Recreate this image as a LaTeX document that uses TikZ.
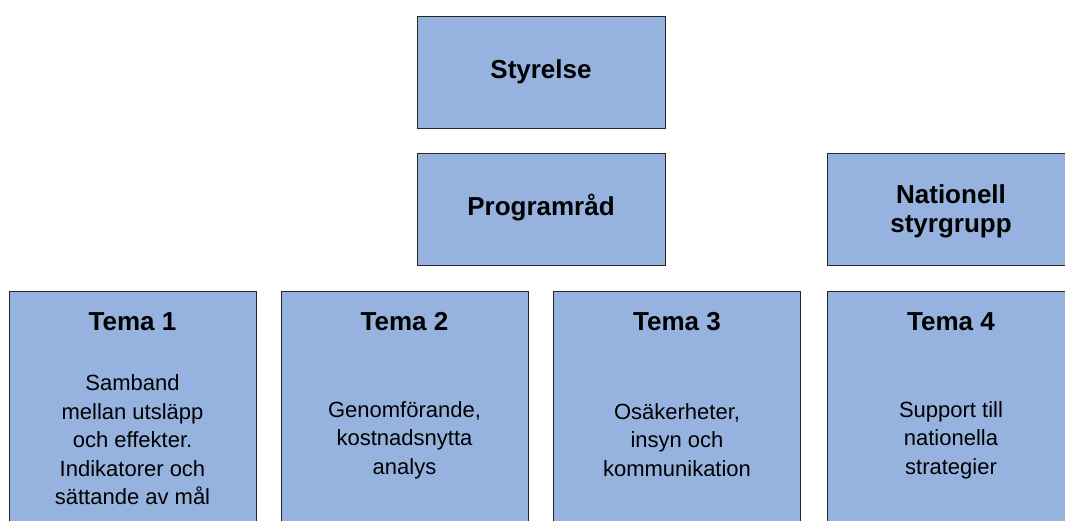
\documentclass[tikz,border=0pt]{standalone}
\usepackage{fontspec}
\setmainfont{Liberation Sans}
\usetikzlibrary{calc}
\definecolor{boxblue}{RGB}{149,179,222}
\begin{document}
\begin{tikzpicture}[x=1pt,y=-1pt,
  orgbox/.style={draw=black!85,line width=0.9pt,fill=boxblue,rectangle,inner sep=0pt,
    minimum width=248pt,minimum height=112pt},
  temabox/.style={draw=black!85,line width=0.9pt,fill=boxblue,rectangle,inner sep=0pt,
    minimum width=247pt,minimum height=300pt},
  titletext/.style={font=\fontsize{26}{29}\selectfont\bfseries,align=center,inner sep=0pt},
  bodytext/.style={font=\fontsize{22}{28.5}\selectfont,align=center,inner sep=0pt}]
\useasboundingbox (0,0) rectangle (1065,520);
\clip (0,0) rectangle (1065,520);
\node[orgbox] (sty) at (541,72) {};
\node[titletext] (stytxt) at (sty.center) {Styrelse};
\node[orgbox] (prog) at (541,209) {};
\node[titletext] (progtxt) at ($(prog.center)+(0,-1)$) {Programråd};
\node[orgbox] (nat) at (951,209) {};
\node[titletext] (nattxt) at ($(nat.center)+(0,2)$) {Nationell\\styrgrupp};
\node[temabox,anchor=north] (t1) at (132.5,291) {};
\node[temabox,anchor=north] (t2) at (404.5,291) {};
\node[temabox,anchor=north] (t3) at (677,291) {};
\node[temabox,anchor=north] (t4) at (951,291) {};
\node[titletext] (t1h) at ($(t1.north)+(0,31)$) {Tema 1};
\node[titletext] (t2h) at ($(t2.north)+(0,31)$) {Tema 2};
\node[titletext] (t3h) at ($(t3.north)+(0,31)$) {Tema 3};
\node[titletext] (t4h) at ($(t4.north)+(0,31)$) {Tema 4};
\node[bodytext] (t1b) at ($(t1.north)+(0,149)$) {Samband\\mellan utsläpp\\och effekter.\\Indikatorer och\\sättande av mål};
\node[bodytext] (t2b) at ($(t2.north)+(0,149)$) {Genomförande,\\kostnadsnytta\\analys};
\node[bodytext] (t3b) at ($(t3.north)+(0,149)$) {Osäkerheter,\\insyn och\\kommunikation};
\node[bodytext] (t4b) at ($(t4.north)+(0,149)$) {Support till\\nationella\\strategier};
\end{tikzpicture}
\end{document}
